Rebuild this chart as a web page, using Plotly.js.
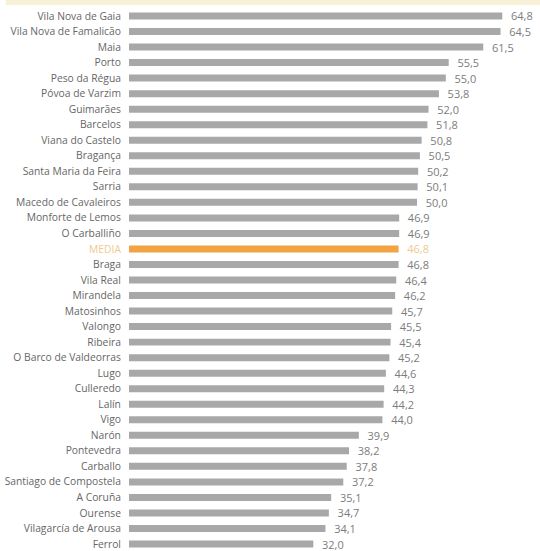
<!DOCTYPE html>
<html>
<head>
<meta charset="utf-8">
<script src="https://cdn.plot.ly/plotly-3.0.1.min.js"></script>
<style>html,body{margin:0;padding:0;background:#fff;}#chart{width:540px;height:551px;}</style>
</head>
<body>
<div id="chart"></div>
<script>
const categories = ["Vila Nova de Gaia","Vila Nova de Famalicão","Maia","Porto","Peso da Régua","Póvoa de Varzim","Guimarães","Barcelos","Viana do Castelo","Bragança","Santa Maria da Feira","Sarria","Macedo de Cavaleiros","Monforte de Lemos","O Carballiño","MEDIA","Braga","Vila Real","Mirandela","Matosinhos","Valongo","Ribeira","O Barco de Valdeorras","Lugo","Culleredo","Lalín","Vigo","Narón","Pontevedra","Carballo","Santiago de Compostela","A Coruña","Ourense","Vilagarcía de Arousa","Ferrol"];
const values = [64.8,64.5,61.5,55.5,55.0,53.8,52.0,51.8,50.8,50.5,50.2,50.1,50.0,46.9,46.9,46.8,46.8,46.4,46.2,45.7,45.5,45.4,45.2,44.6,44.3,44.2,44.0,39.9,38.2,37.8,37.2,35.1,34.7,34.1,32.0];
const highlight = "MEDIA";

const barColors = categories.map(c => c === highlight ? "#f2a444" : "#a8a8a8");
const textColors = categories.map(c => c === highlight ? "#f0c98f" : "#7c7c7c");
const tickText = categories.map(c => c === highlight ? '<span style="fill:#f0c98f">' + c + '</span>' : c);

const trace = {
  type: "bar",
  orientation: "h",
  y: categories,
  x: values,
  marker: {color: barColors},
  text: values,
  texttemplate: "\u00a0\u00a0%{x:.1f}",
  textposition: "outside",
  constraintext: "none",
  cliponaxis: false,
  textfont: {family: "Open Sans, sans-serif", size: 11, color: textColors},
  hoverinfo: "none"
};

const layout = {
  width: 540, height: 551,
  margin: {l: 129, r: 0, t: 0, b: 0},
  paper_bgcolor: "#fff", plot_bgcolor: "#fff",
  separators: ",.",
  bargap: 0.55,
  showlegend: false,
  xaxis: {range: [0, 71.35], visible: false, fixedrange: true},
  yaxis: {
    type: "category",
    range: [34.45, -1.03],
    tickmode: "array",
    tickvals: categories,
    ticktext: tickText,
    ticks: "outside", ticklen: 5, tickcolor: "rgba(0,0,0,0)",
    showgrid: false, zeroline: false, showline: false,
    tickfont: {family: "Open Sans, sans-serif", size: 10.3, color: "#666"}
  },
  shapes: [{
    type: "rect", xref: "paper", yref: "paper",
    x0: -0.3, x1: 1, y0: 0.991, y1: 1.0,
    fillcolor: "#f7f1d8", line: {width: 0}, layer: "below"
  }]
};

Plotly.newPlot("chart", [trace], layout, {displayModeBar: false, staticPlot: true});
</script>
</body>
</html>
